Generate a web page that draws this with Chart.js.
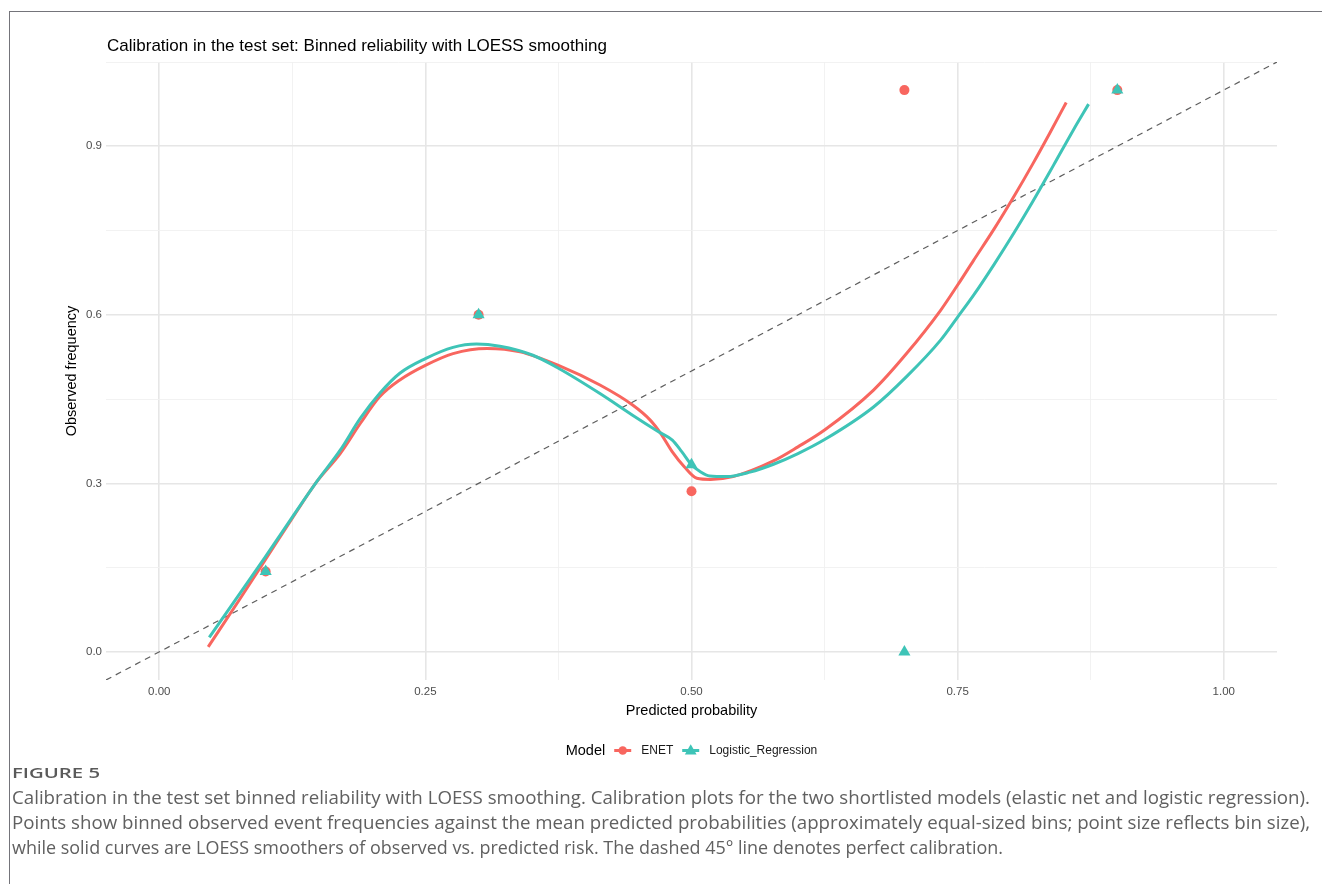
<!DOCTYPE html>
<html>
<head>
<meta charset="utf-8">
<script src="https://cdn.jsdelivr.net/npm/chart.js@4/dist/chart.umd.min.js"></script>
<style>
  html, body { margin: 0; padding: 0; background: #ffffff; }
  body { width: 1322px; height: 884px; position: relative; overflow: hidden; }
  #chart { position: absolute; left: 0; top: 0; }
  #frame { position: absolute; left: 9px; top: 11px; width: 1320px; height: 880px;
           border-top: 1px solid #74747a; border-left: 1px solid #74747a; }
  .cap { position: absolute; left: 12px; white-space: nowrap; transform-origin: 0 50%;
         font-family: "Open Sans", "Noto Sans", sans-serif; color: #606060; }
  .capline { font-size: 17.5px; line-height: 22px; font-weight: 400; }
  #figlabel { font-size: 13.5px; line-height: 16px; font-weight: 600; color: #5a5a5a; }
</style>
</head>
<body>
<div id="frame"></div>
<canvas id="chart" width="1322" height="884"></canvas>
<div class="cap" id="figlabel" style="top:765px" data-w="88">FIGURE 5</div>
<div class="cap capline" style="top:786px" data-w="1298">Calibration in the test set binned reliability with LOESS smoothing. Calibration plots for the two shortlisted models (elastic net and logistic regression).</div>
<div class="cap capline" style="top:811px" data-w="1298">Points show binned observed event frequencies against the mean predicted probabilities (approximately equal-sized bins; point size reflects bin size),</div>
<div class="cap capline" style="top:836px" data-w="991">while solid curves are LOESS smoothers of observed vs. predicted risk. The dashed 45° line denotes perfect calibration.</div>
<script>
// ---- binned reliability points ----
const enetBinX = [0.1, 0.3, 0.5, 0.7, 0.9];
const enetBinY = [0.143, 0.600, 0.286, 1.000, 1.000];
const lrBinX = [0.1, 0.3, 0.5, 0.7, 0.9];
const lrBinY = [0.143, 0.600, 0.333, 0.000, 1.000];

// ---- LOESS smoothers ----
const enetCurveX = [0.046, 0.075, 0.100, 0.125, 0.148, 0.170, 0.189, 0.207, 0.226, 0.250,
                    0.276, 0.308, 0.339, 0.375, 0.414, 0.445, 0.461, 0.471, 0.482, 0.493,
                    0.505, 0.518, 0.539, 0.577, 0.600, 0.625, 0.671, 0.702, 0.734, 0.750,
                    0.765, 0.784, 0.803, 0.821, 0.837, 0.852];
const enetCurveY = [0.009, 0.092, 0.165, 0.238, 0.303, 0.353, 0.407, 0.454, 0.484, 0.510,
                    0.531, 0.540, 0.534, 0.510, 0.475, 0.439, 0.413, 0.389, 0.356, 0.330,
                    0.309, 0.307, 0.312, 0.340, 0.365, 0.395, 0.466, 0.531, 0.608, 0.653,
                    0.697, 0.752, 0.811, 0.870, 0.925, 0.978];
const lrCurveX = [0.047, 0.075, 0.100, 0.125, 0.148, 0.170, 0.189, 0.207, 0.226, 0.250,
                  0.276, 0.298, 0.320, 0.351, 0.375, 0.414, 0.445, 0.469, 0.482, 0.491,
                  0.500, 0.508, 0.517, 0.533, 0.555, 0.577, 0.600, 0.625, 0.671, 0.702,
                  0.734, 0.750, 0.765, 0.784, 0.803, 0.821, 0.840, 0.859, 0.873];
const lrCurveY = [0.026, 0.102, 0.170, 0.240, 0.303, 0.359, 0.416, 0.460, 0.496, 0.522,
                  0.542, 0.548, 0.544, 0.528, 0.505, 0.460, 0.421, 0.392, 0.377, 0.356,
                  0.333, 0.321, 0.313, 0.312, 0.320, 0.334, 0.353, 0.378, 0.436, 0.490,
                  0.555, 0.596, 0.635, 0.689, 0.746, 0.803, 0.866, 0.930, 0.975];

// ---- perfect calibration reference (y = x across the panel) ----
const identityLine = [-0.05, 1.05];

// ---- axes ----
const xLimits = [-0.05, 1.05];
const yLimits = [-0.05, 1.05];
const xMajorBreaks = [0, 0.25, 0.5, 0.75, 1];
const xTickLabels = ['0.00', '0.25', '0.50', '0.75', '1.00'];
const xMinorBreaks = [0.125, 0.375, 0.625, 0.875];
const yMajorBreaks = [0, 0.3, 0.6, 0.9];
const yTickLabels = ['0.0', '0.3', '0.6', '0.9'];
const yMinorBreaks = [0.15, 0.45, 0.75, 1.05];

const seriesNames = ['ENET', 'Logistic_Regression'];
const COL_ENET = '#F8665F';
const COL_LR = '#3EC4B7';
const FONT = '"Liberation Sans", Arial, Helvetica, sans-serif';

const zip = (xs, ys) => xs.map((x, i) => ({ x: x, y: ys[i] }));

function breaks(major, minor) {
  return major.concat(minor).sort((a, b) => a - b).map(v => ({ value: v }));
}
function gridColor(major) {
  return ctx => major.includes(ctx.tick.value) ? '#e6e6e6' : '#f0f0f0';
}
function gridWidth(major) {
  return ctx => major.includes(ctx.tick.value) ? 1.6 : 0.9;
}

// title, axis titles and legend drawn on the canvas
const annotations = {
  id: 'annotations',
  afterDraw(chart) {
    const c = chart.ctx;
    const area = chart.chartArea;
    c.save();
    c.fillStyle = '#000';
    c.textBaseline = 'middle';

    c.font = '17px ' + FONT;
    c.textAlign = 'left';
    c.fillText('Calibration in the test set: Binned reliability with LOESS smoothing', area.left + 1, 46);

    c.font = '14.5px ' + FONT;
    c.textAlign = 'center';
    c.fillText('Predicted probability', (area.left + area.right) / 2, 711);

    c.save();
    c.translate(72, (area.top + area.bottom) / 2);
    c.rotate(-Math.PI / 2);
    c.fillText('Observed frequency', 0, 0);
    c.restore();

    // legend, centred under the panel
    const ly = 750.5;
    c.textAlign = 'left';
    c.font = '14.5px ' + FONT;
    const wTitle = c.measureText('Model').width;
    c.font = '12px ' + FONT;
    const w1 = c.measureText(seriesNames[0]).width;
    const w2 = c.measureText(seriesNames[1]).width;
    const keyW = 17, gapKey = 9, gapText = 10, gapItem = 9;
    const total = wTitle + gapKey + keyW + gapText + w1 + gapItem + keyW + gapText + w2;
    let x = (area.left + area.right) / 2 - total / 2;

    c.font = '14.5px ' + FONT;
    c.fillText('Model', x, ly);
    x += wTitle + gapKey;

    c.lineWidth = 3;
    c.strokeStyle = COL_ENET;
    c.beginPath(); c.moveTo(x, ly); c.lineTo(x + keyW, ly); c.stroke();
    c.fillStyle = COL_ENET;
    c.beginPath(); c.arc(x + keyW / 2, ly, 4.3, 0, Math.PI * 2); c.fill();
    x += keyW + gapText;
    c.fillStyle = '#1a1a1a';
    c.font = '12px ' + FONT;
    c.fillText(seriesNames[0], x, ly);
    x += w1 + gapItem;

    c.strokeStyle = COL_LR;
    c.beginPath(); c.moveTo(x, ly); c.lineTo(x + keyW, ly); c.stroke();
    c.fillStyle = COL_LR;
    const r = 6.8, cx = x + keyW / 2, cy = ly + 0.5;
    c.beginPath();
    c.moveTo(cx, cy - r);
    c.lineTo(cx + r * Math.sin(Math.PI * 2 / 3), cy - r * Math.cos(Math.PI * 2 / 3));
    c.lineTo(cx - r * Math.sin(Math.PI * 2 / 3), cy - r * Math.cos(Math.PI * 2 / 3));
    c.closePath(); c.fill();
    x += keyW + gapText;
    c.fillStyle = '#1a1a1a';
    c.fillText(seriesNames[1], x, ly);

    c.restore();
  }
};

new Chart(document.getElementById('chart'), {
  type: 'scatter',
  data: {
    datasets: [
      {
        label: 'identity',
        type: 'line',
        data: zip(identityLine, identityLine),
        borderColor: '#5e5e5e',
        borderWidth: 1.2,
        borderDash: [6, 5],
        pointRadius: 0,
        fill: false,
        order: 5
      },
      {
        label: seriesNames[0] + ' LOESS',
        type: 'line',
        data: zip(enetCurveX, enetCurveY),
        borderColor: COL_ENET,
        borderWidth: 3,
        pointRadius: 0,
        cubicInterpolationMode: 'monotone',
        fill: false,
        order: 4
      },
      {
        label: seriesNames[1] + ' LOESS',
        type: 'line',
        data: zip(lrCurveX, lrCurveY),
        borderColor: COL_LR,
        borderWidth: 3,
        pointRadius: 0,
        cubicInterpolationMode: 'monotone',
        fill: false,
        order: 3
      },
      {
        label: seriesNames[0],
        data: zip(enetBinX, enetBinY),
        backgroundColor: COL_ENET,
        borderWidth: 0,
        pointStyle: 'circle',
        pointRadius: 5,
        order: 2
      },
      {
        label: seriesNames[1],
        data: zip(lrBinX, lrBinY),
        backgroundColor: COL_LR,
        borderWidth: 0,
        pointStyle: 'triangle',
        pointRadius: 7,
        order: 1
      }
    ]
  },
  options: {
    responsive: false,
    animation: false,
    devicePixelRatio: 1,
    layout: { padding: { left: 0, right: 45, top: 62, bottom: 0 } },
    plugins: { legend: { display: false }, tooltip: { enabled: false }, title: { display: false } },
    scales: {
      x: {
        type: 'linear',
        min: xLimits[0], max: xLimits[1],
        afterBuildTicks: s => { s.ticks = breaks(xMajorBreaks, xMinorBreaks); },
        afterFit: s => { s.height = 204; },
        ticks: {
          autoSkip: false, maxRotation: 0, padding: 5, color: '#4d4d4d',
          font: { family: FONT, size: 11.5 },
          callback: v => { const i = xMajorBreaks.indexOf(v); return i >= 0 ? xTickLabels[i] : ''; }
        },
        grid: { drawTicks: false, color: gridColor(xMajorBreaks), lineWidth: gridWidth(xMajorBreaks) },
        border: { display: false }
      },
      y: {
        type: 'linear',
        min: yLimits[0], max: yLimits[1],
        afterBuildTicks: s => { s.ticks = breaks(yMajorBreaks, yMinorBreaks); },
        afterFit: s => { s.width = 106; },
        ticks: {
          autoSkip: false, padding: 4, color: '#4d4d4d',
          font: { family: FONT, size: 11.5 },
          callback: v => { const i = yMajorBreaks.indexOf(v); return i >= 0 ? yTickLabels[i] : ''; }
        },
        grid: { drawTicks: false, color: gridColor(yMajorBreaks), lineWidth: gridWidth(yMajorBreaks) },
        border: { display: false }
      }
    }
  },
  plugins: [annotations]
});

// fit each caption line to its measured column width
document.querySelectorAll('.cap').forEach(el => {
  const target = parseFloat(el.dataset.w);
  const w = el.getBoundingClientRect().width;
  if (w > 0) el.style.transform = 'scaleX(' + (target / w) + ')';
});
</script>
</body>
</html>
